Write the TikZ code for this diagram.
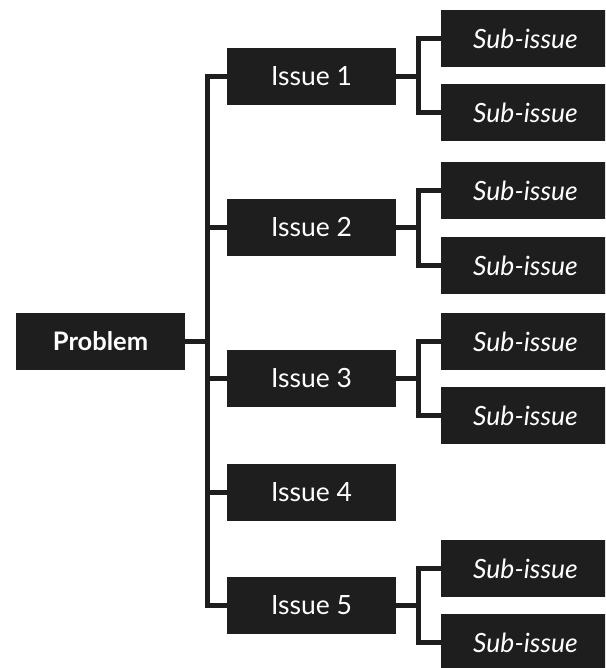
\documentclass[tikz,border=0pt]{standalone}
\usepackage{xcolor}
\usepackage{fontspec}
\setmainfont{Lato}
\usepackage{tikz}
\definecolor{boxgray}{HTML}{1E1E1E}
\tikzset{
    box/.style={fill=boxgray, text=white, minimum width=169pt, minimum height=57pt,
                inner sep=0pt, font=\fontsize{26.5}{30}\selectfont},
    subbox/.style={box, font=\fontsize{26.5}{30}\selectfont\itshape},
    link/.style={draw=boxgray, line width=5pt}
}

\begin{document}
\begin{tikzpicture}[x=1pt, y=-1pt]

\clip (0,0) rectangle (605,668);

\node[box, font=\fontsize{25.5}{30}\selectfont\bfseries] (P) at (100.5,341) {Problem};

\begin{scope}[every node/.style={box}]
    \node (I1) at (311.5,76.5) {Issue 1};
    \node (I2) at (311.5,227.5) {Issue 2};
    \node (I3) at (311.5,378.5) {Issue 3};
    \node (I4) at (311.5,492.5) {Issue 4};
    \node (I5) at (311.5,605) {Issue 5};
\end{scope}

\begin{scope}[every node/.style={subbox}]
    \node (S1a) at (525.5,38.5) {Sub-issue};
    \node (S1b) at (525.5,112.5) {Sub-issue};
    \node (S2a) at (525.5,190.5) {Sub-issue};
    \node (S2b) at (525.5,265.5) {Sub-issue};
    \node (S3a) at (525.5,341.5) {Sub-issue};
    \node (S3b) at (525.5,415.5) {Sub-issue};
    \node (S5a) at (525.5,568.5) {Sub-issue};
    \node (S5b) at (525.5,642.5) {Sub-issue};
\end{scope}

% trunk and forks
\coordinate (T) at (207,0);
\coordinate (F) at (418,0);

\draw[link] (I1.west) -- (I1.west -| T) -- (I5.west -| T) -- (I5.west);
\draw[link] (P.east) -- (P.east -| T);
\foreach \i in {I2,I3,I4}
    \draw[link] (\i.west -| T) -- (\i.west);

\foreach \i/\a/\b in {I1/S1a/S1b, I2/S2a/S2b, I3/S3a/S3b, I5/S5a/S5b} {
    \draw[link] (\i.east) -- (\i.east -| F);
    \draw[link] (\a.west) -- (\a.west -| F) -- (\b.west -| F) -- (\b.west);
}

\end{tikzpicture}
\end{document}
